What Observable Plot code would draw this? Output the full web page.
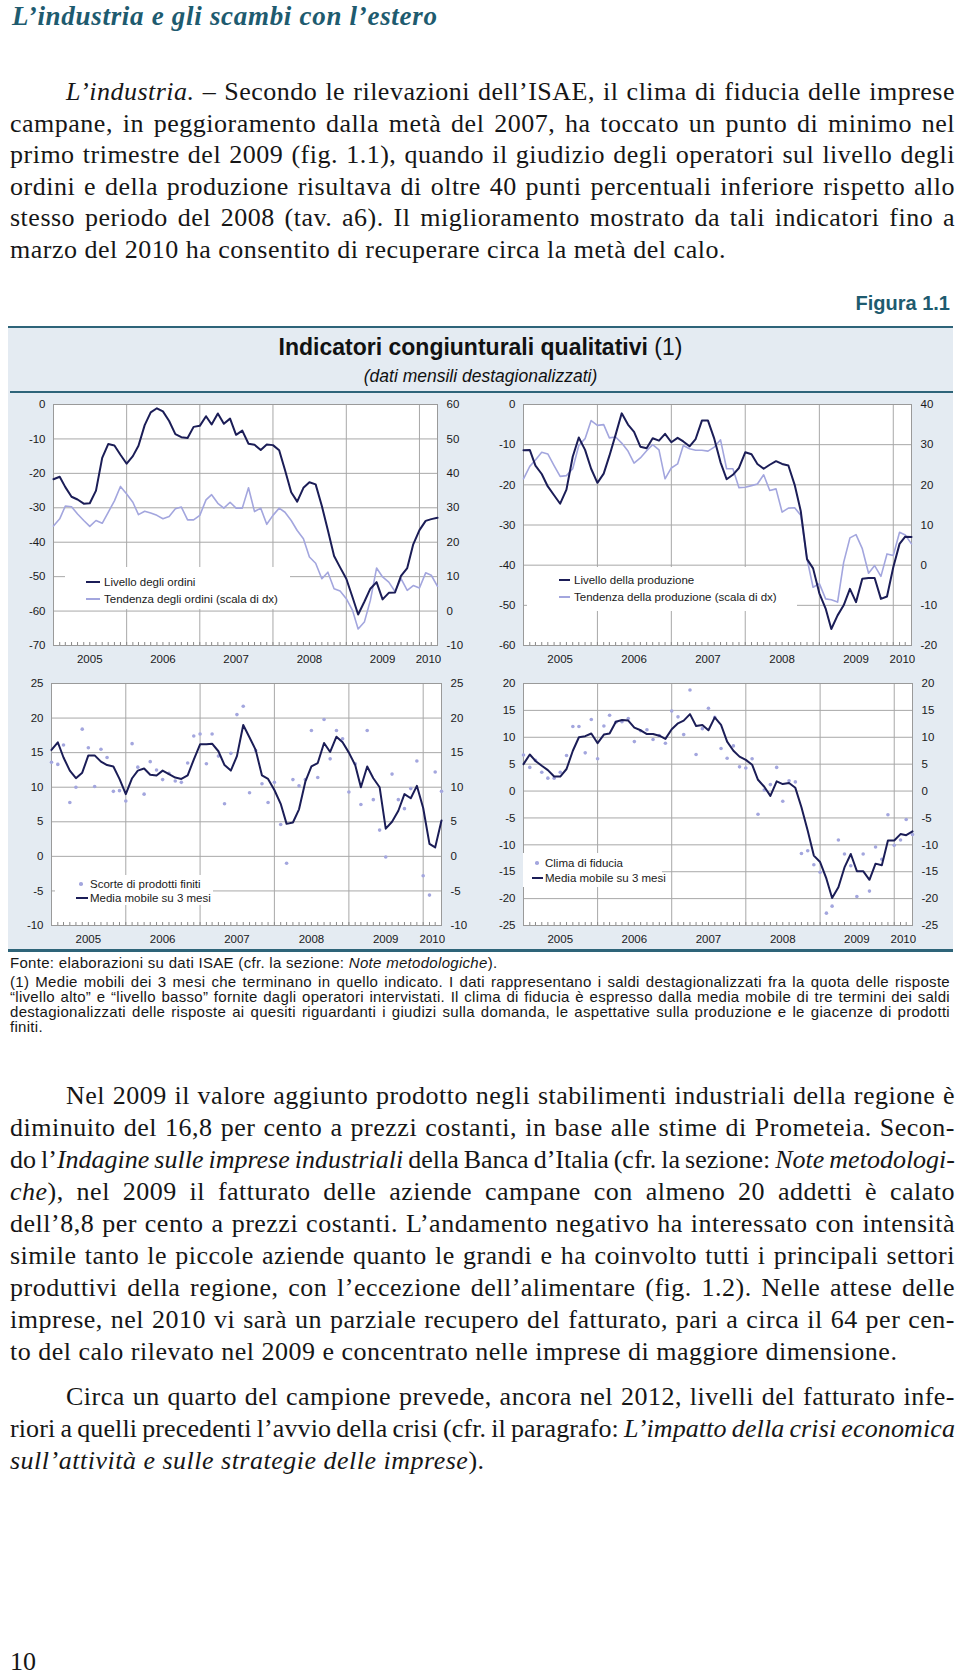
<!DOCTYPE html>
<html><head><meta charset="utf-8">
<script src="https://cdn.jsdelivr.net/npm/d3@7"></script>
<script src="https://cdn.jsdelivr.net/npm/@observablehq/plot@0.6"></script>
<style>
html,body{margin:0;padding:0}
body{width:960px;height:1676px;position:relative;background:#fff;overflow:hidden}
.a{position:absolute}
.serif{font-family:"Liberation Serif","DejaVu Serif",serif;color:#161616}
.sans{font-family:"Liberation Sans",Arial,sans-serif;color:#161616}
.para{position:absolute;left:10px;width:945px;font-size:26px;letter-spacing:0.5px}
.line{white-space:nowrap;overflow:visible}
.ind{padding-left:56px}
.fn{letter-spacing:0.3px}
.fn .line{height:15px;line-height:15px}
.leg{position:absolute;background:#fff}
.lt{position:absolute;font-family:"Liberation Sans",Arial,sans-serif;font-size:11.5px;color:#1a1a1a;white-space:nowrap;line-height:14px}
.ls{position:absolute}
</style></head>
<body>
<div class="a serif" style="left:12px;top:1px;line-height:30px;font-size:27px;letter-spacing:0.7px;font-style:italic;font-weight:bold;color:#1e5b6f">L’industria e gli scambi con l’estero</div>

<div class="para serif" style="top:76px;line-height:31.6px">
<div class="line j ind"><span class="t"><i>L’industria.</i> – Secondo le rilevazioni dell’ISAE, il clima di fiducia delle imprese</span></div>
<div class="line j"><span class="t">campane, in peggioramento dalla metà del 2007, ha toccato un punto di minimo nel</span></div>
<div class="line j"><span class="t">primo trimestre del 2009 (fig. 1.1), quando il giudizio degli operatori sul livello degli</span></div>
<div class="line j"><span class="t">ordini e della produzione risultava di oltre 40 punti percentuali inferiore rispetto allo</span></div>
<div class="line j"><span class="t">stesso periodo del 2008 (tav. a6). Il miglioramento mostrato da tali indicatori fino a</span></div>
<div class="line"><span class="t">marzo del 2010 ha consentito di recuperare circa la metà del calo.</span></div>
</div>

<div class="a sans" style="right:10px;top:291px;line-height:24px;font-size:20px;font-weight:bold;color:#1e5b6f">Figura 1.1</div>
<div class="a" style="left:8px;top:326px;width:945px;height:2.5px;background:#2e6479"></div>
<div class="a" style="left:8px;top:328px;width:945px;height:622px;background:#e4ebf2"></div>
<div class="a" style="left:8px;top:949px;width:945px;height:2.5px;background:#2e6479"></div>
<div class="a sans" style="left:8px;top:333px;width:945px;text-align:center;font-size:23px;line-height:28px;color:#111"><b>Indicatori congiunturali qualitativi</b> (1)</div>
<div class="a sans" style="left:8px;top:366px;width:945px;text-align:center;font-size:17.5px;line-height:21px;font-style:italic;color:#111">(dati mensili destagionalizzati)</div>
<div class="a" style="left:10px;top:391px;width:943px;height:1.5px;background:#2e6479"></div>

<div id="tl" class="a" style="left:0;top:394px"></div>
<div id="tr" class="a" style="left:478px;top:394px"></div>
<div id="bl" class="a" style="left:0;top:673px"></div>
<div id="br" class="a" style="left:478px;top:673px"></div>

<div id="legends"></div>

<div class="a sans" style="left:10px;top:955px;font-size:15px;letter-spacing:0.3px;line-height:16px;white-space:nowrap">Fonte: elaborazioni su dati ISAE (cfr. la sezione: <i>Note metodologiche</i>).</div>
<div class="para sans fn" style="top:973.5px;width:940px;font-size:15px">
<div class="line j"><span class="t">(1) Medie mobili dei 3 mesi che terminano in quello indicato. I dati rappresentano i saldi destagionalizzati fra la quota delle risposte</span></div>
<div class="line j"><span class="t">“livello alto” e “livello basso” fornite dagli operatori intervistati. Il clima di fiducia è espresso dalla media mobile di tre termini dei saldi</span></div>
<div class="line j"><span class="t">destagionalizzati delle risposte ai quesiti riguardanti i giudizi sulla domanda, le aspettative sulla produzione e le giacenze di prodotti</span></div>
<div class="line"><span class="t">finiti.</span></div>
</div>

<div class="para serif" style="top:1080px;line-height:32px">
<div class="line j ind"><span class="t">Nel 2009 il valore aggiunto prodotto negli stabilimenti industriali della regione è</span></div>
<div class="line j"><span class="t">diminuito del 16,8 per cento a prezzi costanti, in base alle stime di Prometeia. Secon-</span></div>
<div class="line j"><span class="t">do l’<i>Indagine sulle imprese industriali</i> della Banca d’Italia (cfr. la sezione: <i>Note metodologi-</i></span></div>
<div class="line j"><span class="t"><i>che</i>), nel 2009 il fatturato delle aziende campane con almeno 20 addetti è calato</span></div>
<div class="line j"><span class="t">dell’8,8 per cento a prezzi costanti. L’andamento negativo ha interessato con intensità</span></div>
<div class="line j"><span class="t">simile tanto le piccole aziende quanto le grandi e ha coinvolto tutti i principali settori</span></div>
<div class="line j"><span class="t">produttivi della regione, con l’eccezione dell’alimentare (fig. 1.2). Nelle attese delle</span></div>
<div class="line j"><span class="t">imprese, nel 2010 vi sarà un parziale recupero del fatturato, pari a circa il 64 per cen-</span></div>
<div class="line"><span class="t">to del calo rilevato nel 2009 e concentrato nelle imprese di maggiore dimensione.</span></div>
</div>

<div class="para serif" style="top:1381px;line-height:32px">
<div class="line j ind"><span class="t">Circa un quarto del campione prevede, ancora nel 2012, livelli del fatturato infe-</span></div>
<div class="line j"><span class="t">riori a quelli precedenti l’avvio della crisi (cfr. il paragrafo: <i>L’impatto della crisi economica</i></span></div>
<div class="line"><span class="t"><i>sull’attività e sulle strategie delle imprese</i>).</span></div>
</div>

<div class="a serif" style="left:10px;top:1647px;font-size:26px;line-height:30px">10</div>

<script>
// ---------- DATA ----------
const yearLabels = ["2005", "2006", "2007", "2008", "2009", "2010"];

// Livello degli ordini (scala sx), Jan 2005 - Apr 2010
const livelloOrdini = [-21.7,-21,-24,-26.8,-27.6,-28.8,-28.7,-25,-15.5,-11.5,-11.9,-14.6,-17.2,-15,-12,-6,-2.3,-1.1,-2,-4.8,-8.6,-9.5,-9.7,-6.5,-6.2,-3.4,-5.8,-2.6,-5.6,-4.1,-8.8,-7.6,-11.4,-11.7,-13.2,-11.6,-11.8,-13.3,-19,-25.5,-28.2,-24.2,-22.6,-23.2,-29.5,-36.5,-44,-47.3,-50.6,-56,-61,-57.3,-53.5,-51.6,-56.6,-54.7,-54.6,-49.8,-47.5,-40.6,-36.5,-33.8,-33.3,-32.9];
// Tendenza degli ordini (scala dx)
const tendenzaOrdini = [24.7,26.8,30.5,30.3,28.2,26.3,24.6,26.3,25.5,28.7,32,36.2,34,31.6,28,29,28.5,27.8,26.8,27.5,29.7,30.2,26.5,26.5,27.8,32.3,33.8,31.3,29.9,31.6,29.9,29.9,35.8,28.9,29.9,25.2,27.8,29.9,28.7,26.3,23.4,21,15.7,13.9,9.4,11.3,6.5,5.8,3.6,0.2,-5.2,-3.2,3.1,12.5,9.9,8.4,5.7,9.4,6,7.4,6.7,11.1,10.4,7.2];
// Livello della produzione (scala sx)
const livelloProduzione = [-11.4,-11.3,-15.2,-17.3,-20.4,-22.6,-24.7,-21.2,-13,-8.2,-11.3,-16,-19.5,-17.2,-12.8,-7.5,-2.2,-5,-6.8,-10.5,-10.9,-8.4,-9,-7.3,-9.4,-8.3,-9.2,-10.4,-8.6,-4,-4,-8.5,-14.4,-18.6,-17.5,-15.8,-11.9,-12.4,-14.8,-16,-15,-14.1,-14.8,-15.2,-20,-26.5,-38.5,-40.8,-47,-50.8,-55.9,-52.5,-50,-45.9,-49.2,-43.4,-43.2,-43.2,-48.4,-47.8,-40.5,-34.7,-32.9,-33];
// Tendenza della produzione (scala dx)
const tendenzaProduzione = [21.5,24.6,26.2,28.1,27.7,24.8,22.1,22.3,24,29.8,31.5,36,34.8,35,31.7,31.9,30.4,28.4,25.4,26.7,28.5,30,28.7,21.5,24.2,25.2,29.8,29,28.6,28.6,28.4,29.4,31.2,24,24,19.3,19.4,19.8,20.2,22.5,18.6,19,13.2,14.2,14.3,12.4,1.6,-5.5,-4.6,-8.4,-8.6,-9.2,0.7,6.8,7.6,4.1,-2,-0.1,-2.8,2.8,2.4,8.2,7.5,5.3];
// Scorte di prodotti finiti (punti) e media mobile su 3 mesi
const scorte = [13.6,13.3,16.1,7.8,10,18.4,15.7,10.1,15.5,14.3,9.4,9.5,8,16.3,12.9,9,13.7,12.5,11.1,12,10.9,10.7,13.5,17.4,17.7,13.4,17.7,14.5,7.6,14.9,20.5,21.7,9.2,15.3,10.5,7.8,10.7,4.6,-1,11.1,10.2,11.1,18.2,11.4,19.8,14.1,18.2,17,9.3,13.4,7.5,18.2,8.2,3.8,-0.1,11.9,8.2,6.9,9.8,13.8,-2.8,-5.6,12.2,9.4];
const scorteMedia = [15.4,16.5,14.3,12.4,11.3,12.1,14.6,14.6,13.7,13.2,13,11.2,9,11.3,12.4,12.7,11.8,11.7,12.4,11.9,11.4,11.2,11.7,14,16.2,16.2,16.3,15.2,13.2,12.4,14.5,19,17.2,15.4,11.7,11.2,9.6,7.6,4.7,4.9,6.8,10.8,13,13.5,16.4,15.1,17.3,16.5,15,13.2,10,13,11.3,10,4,5,6.6,9,8.4,10.2,7,1.8,1.3,5.2];
// Clima di fiducia (punti) e media mobile su 3 mesi
const clima = [6.7,4.4,5.7,3.5,2.4,2.4,3.5,6.6,12,12,7.1,13.3,6,12.1,14.1,12.8,12.9,13.5,9.2,11.2,11.4,9.6,10.3,8.9,14.9,13.8,10.5,18.8,6.8,11.6,15.4,13.7,7.9,6.1,8.4,4.5,4.3,6,-4.3,0.2,1.2,4.4,-1.9,1.9,1.7,-11.6,-11.1,-13.7,-15.1,-22.7,-21.4,-9.1,-11.7,-13.9,-19.6,-11.7,-18.6,-10.4,-12.7,-4.4,-10.1,-9.1,-5.3,-8.1];
const climaMedia = [5,6.8,5.6,4.7,3.9,2.7,2.7,4.1,7.5,10,10.2,10.7,8.9,10.5,10.7,12.9,13.2,13.1,11.8,11.3,10.6,10.6,10.3,9.7,11.5,12.6,13.1,14.3,12.1,12.3,11.3,13.7,12.3,9.2,7.5,6.4,5.8,4.9,2.1,0.8,-0.9,1.8,1.3,1.5,0.6,-3,-7.4,-12,-13.2,-16.3,-19.9,-17.9,-14.2,-11.7,-14.9,-14.9,-16.5,-13.5,-13.8,-9.2,-9.2,-8,-8.2,-7.5];

// Axis ticks (left scale) and the matching right-scale labels
const ticksOrdini = [0,-10,-20,-30,-40,-50,-60,-70];
const ticksOrdiniDx = [60,50,40,30,20,10,0,-10];
const ticksProduzione = [0,-10,-20,-30,-40,-50,-60];
const ticksProduzioneDx = [40,30,20,10,0,-10,-20];
const ticksScorte = [25,20,15,10,5,0,-5,-10];
const ticksClima = [20,15,10,5,0,-5,-10,-15,-20,-25];

// ---------- CHARTS ----------
const DARK = "#1b1d57", LIGHT = "#a3a6de", GRID = "#a8a8a8";
const start = new Date(Date.UTC(2005, 0, 1));
const months = d3.utcMonths(start, new Date(Date.UTC(2010, 4, 1)));
const xDomain = [months[0], months[months.length - 1]];
const yearStarts = d3.utcYears(new Date(Date.UTC(2006, 0, 1)), new Date(Date.UTC(2011, 0, 1)));
const yearMids = yearLabels.map(y => y === "2010" ? new Date(Date.UTC(+y, 1, 15)) : new Date(Date.UTC(+y, 6, 1)));

function panel({width, height, ml, mr, mt, mb, ticks, ticksDx, marks}) {
  const yDomain = [d3.min(ticks), d3.max(ticks)];
  const innerH = height - mt - mb;
  const tickLen = (yDomain[1] - yDomain[0]) / innerH * 3;
  const dxMap = new Map(ticks.map((t, i) => [t, ticksDx[i]]));
  return Plot.plot({
    width, height, marginLeft: ml, marginRight: mr, marginTop: mt, marginBottom: mb,
    style: {background: "transparent", fontFamily: "Liberation Sans, Arial, sans-serif", fontSize: "11.5px", color: "#1a1a1a", overflow: "visible"},
    x: {type: "utc", domain: xDomain},
    y: {domain: yDomain},
    marks: [
      Plot.frame({fill: "white"}),
      Plot.ruleY(ticks, {stroke: GRID, strokeWidth: 1}),
      Plot.ruleX(yearStarts, {stroke: GRID, strokeWidth: 1}),
      Plot.ruleX(months, {y1: yDomain[0], y2: yDomain[0] + tickLen, stroke: "#8a8a8a", strokeWidth: 1}),
      Plot.frame({stroke: "#9a9a9a"}),
      Plot.axisY({anchor: "left", ticks, tickSize: 0, tickPadding: 8, tickFormat: d => String(d), label: null}),
      Plot.axisY({anchor: "right", ticks, tickSize: 0, tickPadding: 9, tickFormat: d => String(dxMap.get(d)), label: null}),
      Plot.axisX({ticks: yearMids, tickSize: 0, tickPadding: 9, tickFormat: d => yearLabels[yearMids.findIndex(m => +m === +d)], label: null}),
      ...marks
    ]
  });
}

const rowsOrdini = months.map((m, i) => ({m, liv: livelloOrdini[i], ten: tendenzaOrdini[i]}));
const rowsProd = months.map((m, i) => ({m, liv: livelloProduzione[i], ten: tendenzaProduzione[i]}));
const rowsScorte = months.map((m, i) => ({m, v: scorte[i], mm: scorteMedia[i]}));
const rowsClima = months.map((m, i) => ({m, v: clima[i], mm: climaMedia[i]}));
const offOrdini = ticksOrdiniDx[0] - ticksOrdini[0];
const offProd = ticksProduzioneDx[0] - ticksProduzione[0];

document.getElementById("tl").append(panel({
  width: 478, height: 276, ml: 53, mr: 41, mt: 10, mb: 25,
  ticks: ticksOrdini, ticksDx: ticksOrdiniDx,
  marks: [
    Plot.line(rowsOrdini, {x: "m", y: d => d.ten - offOrdini, stroke: LIGHT, strokeWidth: 1.6}),
    Plot.line(rowsOrdini, {x: "m", y: "liv", stroke: DARK, strokeWidth: 2})
  ]
}));
document.getElementById("tr").append(panel({
  width: 482, height: 276, ml: 45, mr: 49, mt: 10, mb: 25,
  ticks: ticksProduzione, ticksDx: ticksProduzioneDx,
  marks: [
    Plot.line(rowsProd, {x: "m", y: d => d.ten - offProd, stroke: LIGHT, strokeWidth: 1.6}),
    Plot.line(rowsProd, {x: "m", y: "liv", stroke: DARK, strokeWidth: 2})
  ]
}));
document.getElementById("bl").append(panel({
  width: 478, height: 277, ml: 51, mr: 37, mt: 10, mb: 25,
  ticks: ticksScorte, ticksDx: ticksScorte,
  marks: [
    Plot.dot(rowsScorte, {x: "m", y: "v", r: 1.8, fill: LIGHT, stroke: "none"}),
    Plot.line(rowsScorte, {x: "m", y: "mm", stroke: DARK, strokeWidth: 2})
  ]
}));
document.getElementById("br").append(panel({
  width: 482, height: 277, ml: 45, mr: 48, mt: 10, mb: 25,
  ticks: ticksClima, ticksDx: ticksClima,
  marks: [
    Plot.dot(rowsClima, {x: "m", y: "v", r: 1.8, fill: LIGHT, stroke: "none"}),
    Plot.line(rowsClima, {x: "m", y: "mm", stroke: DARK, strokeWidth: 2})
  ]
}));

// ---------- LEGENDS (inside the plot areas) ----------
const legends = [
  {box: [65, 567, 225, 42], items: [
    {type: "line", color: DARK, w: 2, x1: 86, x2: 100, y: 582, tx: 104, text: "Livello degli ordini"},
    {type: "line", color: LIGHT, w: 1.6, x1: 86, x2: 100, y: 599, tx: 104, text: "Tendenza degli ordini (scala di dx)"}]},
  {box: [527, 567, 270, 44], items: [
    {type: "line", color: DARK, w: 2, x1: 559, x2: 570, y: 580, tx: 574, text: "Livello della produzione"},
    {type: "line", color: LIGHT, w: 1.6, x1: 559, x2: 570, y: 597, tx: 574, text: "Tendenza della produzione (scala di dx)"}]},
  {box: [55, 875, 158, 30], items: [
    {type: "dot", color: LIGHT, x1: 81, y: 884, tx: 90, text: "Scorte di prodotti finiti"},
    {type: "line", color: DARK, w: 2, x1: 76, x2: 88, y: 898, tx: 90, text: "Media mobile su 3 mesi"}]},
  {box: [523, 853, 139, 34], items: [
    {type: "dot", color: LIGHT, x1: 537, y: 863, tx: 545, text: "Clima di fiducia"},
    {type: "line", color: DARK, w: 2, x1: 532, x2: 543, y: 878, tx: 545, text: "Media mobile su 3 mesi"}]}
];
const legRoot = document.getElementById("legends");
for (const L of legends) {
  const b = document.createElement("div");
  b.className = "leg";
  Object.assign(b.style, {left: L.box[0] + "px", top: L.box[1] + "px", width: L.box[2] + "px", height: L.box[3] + "px"});
  legRoot.append(b);
  for (const it of L.items) {
    const s = document.createElement("div");
    s.className = "ls";
    if (it.type === "line") {
      Object.assign(s.style, {left: it.x1 + "px", top: (it.y - it.w / 2) + "px", width: (it.x2 - it.x1) + "px", height: it.w + "px", background: it.color});
    } else {
      Object.assign(s.style, {left: (it.x1 - 1.8) + "px", top: (it.y - 1.8) + "px", width: "3.6px", height: "3.6px", borderRadius: "50%", background: it.color});
    }
    legRoot.append(s);
    const t = document.createElement("div");
    t.className = "lt";
    t.textContent = it.text;
    Object.assign(t.style, {left: it.tx + "px", top: (it.y - 7) + "px"});
    legRoot.append(t);
  }
}

// ---------- justify each typeset line to the column width ----------
document.querySelectorAll(".line").forEach(el => {
  const inner = el.querySelector(".t");
  const cs = getComputedStyle(el);
  const avail = el.clientWidth - parseFloat(cs.paddingLeft) - parseFloat(cs.paddingRight);
  const w = inner.getBoundingClientRect().width;
  const n = (inner.textContent.match(/ /g) || []).length;
  if (!n || !(el.classList.contains("j") || w > avail)) return;
  let ws = (avail - w) / n;
  const minWs = -1.5;
  if (ws < minWs) {
    // squeeze letters instead of collapsing the spaces
    const chars = inner.textContent.length;
    const baseLs = parseFloat(getComputedStyle(inner).letterSpacing) || 0;
    const rest = (avail - w) - minWs * n;
    inner.style.letterSpacing = (baseLs + rest / chars) + "px";
    ws = minWs;
  }
  inner.style.wordSpacing = ws + "px";
});
</script>
</body></html>
